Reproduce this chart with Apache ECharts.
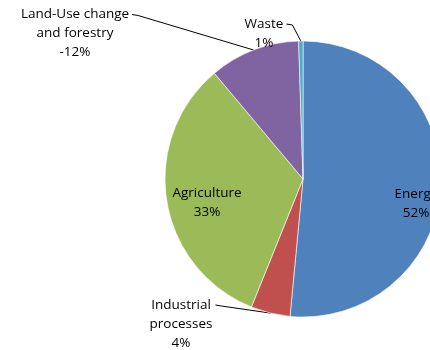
<!DOCTYPE html>
<html>
<head>
<meta charset="utf-8">
<script src="https://cdn.jsdelivr.net/npm/echarts@6/dist/echarts.min.js"></script>
<style>
  html, body { margin: 0; padding: 0; background: #fff; }
  #container { width: 430px; height: 350px; }
</style>
</head>
<body>
<div id="container"></div>
<script>
// slice data, clockwise from 12 o'clock
var sectors = ['Energy', 'Industrial\nprocesses', 'Agriculture', 'Land-Use change\nand forestry', 'Waste'];
var shares = [51.5, 4.6, 32.8, 10.6, 0.5];
var shareLabels = ['52%', '4%', '33%', '-12%', '1%'];
var colors = ['#4F81BD', '#C0504D', '#9BBB59', '#8064A2', '#4BACC6'];

// label placement: [centre x, top y], and whether a leader line is drawn
var labelPos = [[416, 185], [181, 295.5], [207, 184], [75, 5], [264, 14.5]];
var outside = [false, true, false, true, true];
var LH = 19;

var data = [];
for (var i = 0; i < sectors.length; i++) {
  data.push({
    name: sectors[i],
    value: shares[i],
    itemStyle: { color: colors[i] },
    label: { position: outside[i] ? 'outside' : 'inside' },
    labelLine: { show: outside[i] }
  });
}

var option = {
  animation: false,
  series: [{
    type: 'pie',
    center: [303, 179],
    radius: 138,
    startAngle: 90,
    clockwise: true,
    avoidLabelOverlap: false,
    itemStyle: { borderColor: '#fff', borderWidth: 0.6 },
    label: {
      formatter: function (p) { return p.name + '\n' + shareLabels[p.dataIndex]; },
      fontFamily: 'Open Sans',
      fontSize: 13.5,
      lineHeight: LH,
      color: '#000',
      align: 'center'
    },
    labelLine: { lineStyle: { color: '#000', width: 1 } },
    labelLayout: function (p) {
      var i = p.dataIndex;
      var x = labelPos[i][0], y = labelPos[i][1];
      var res = { x: x, y: y, align: 'center', verticalAlign: 'top' };
      if (outside[i] && p.labelLinePoints) {
        var right = x + p.labelRect.width / 2;
        var ly = y + LH / 2;
        res.labelLinePoints = [p.labelLinePoints[0], [right + 9, ly + 1], [right + 3, ly]];
      }
      return res;
    },
    data: data
  }]
};

var mychart = echarts.init(document.getElementById('container'));
mychart.setOption(option);
</script>
</body>
</html>
